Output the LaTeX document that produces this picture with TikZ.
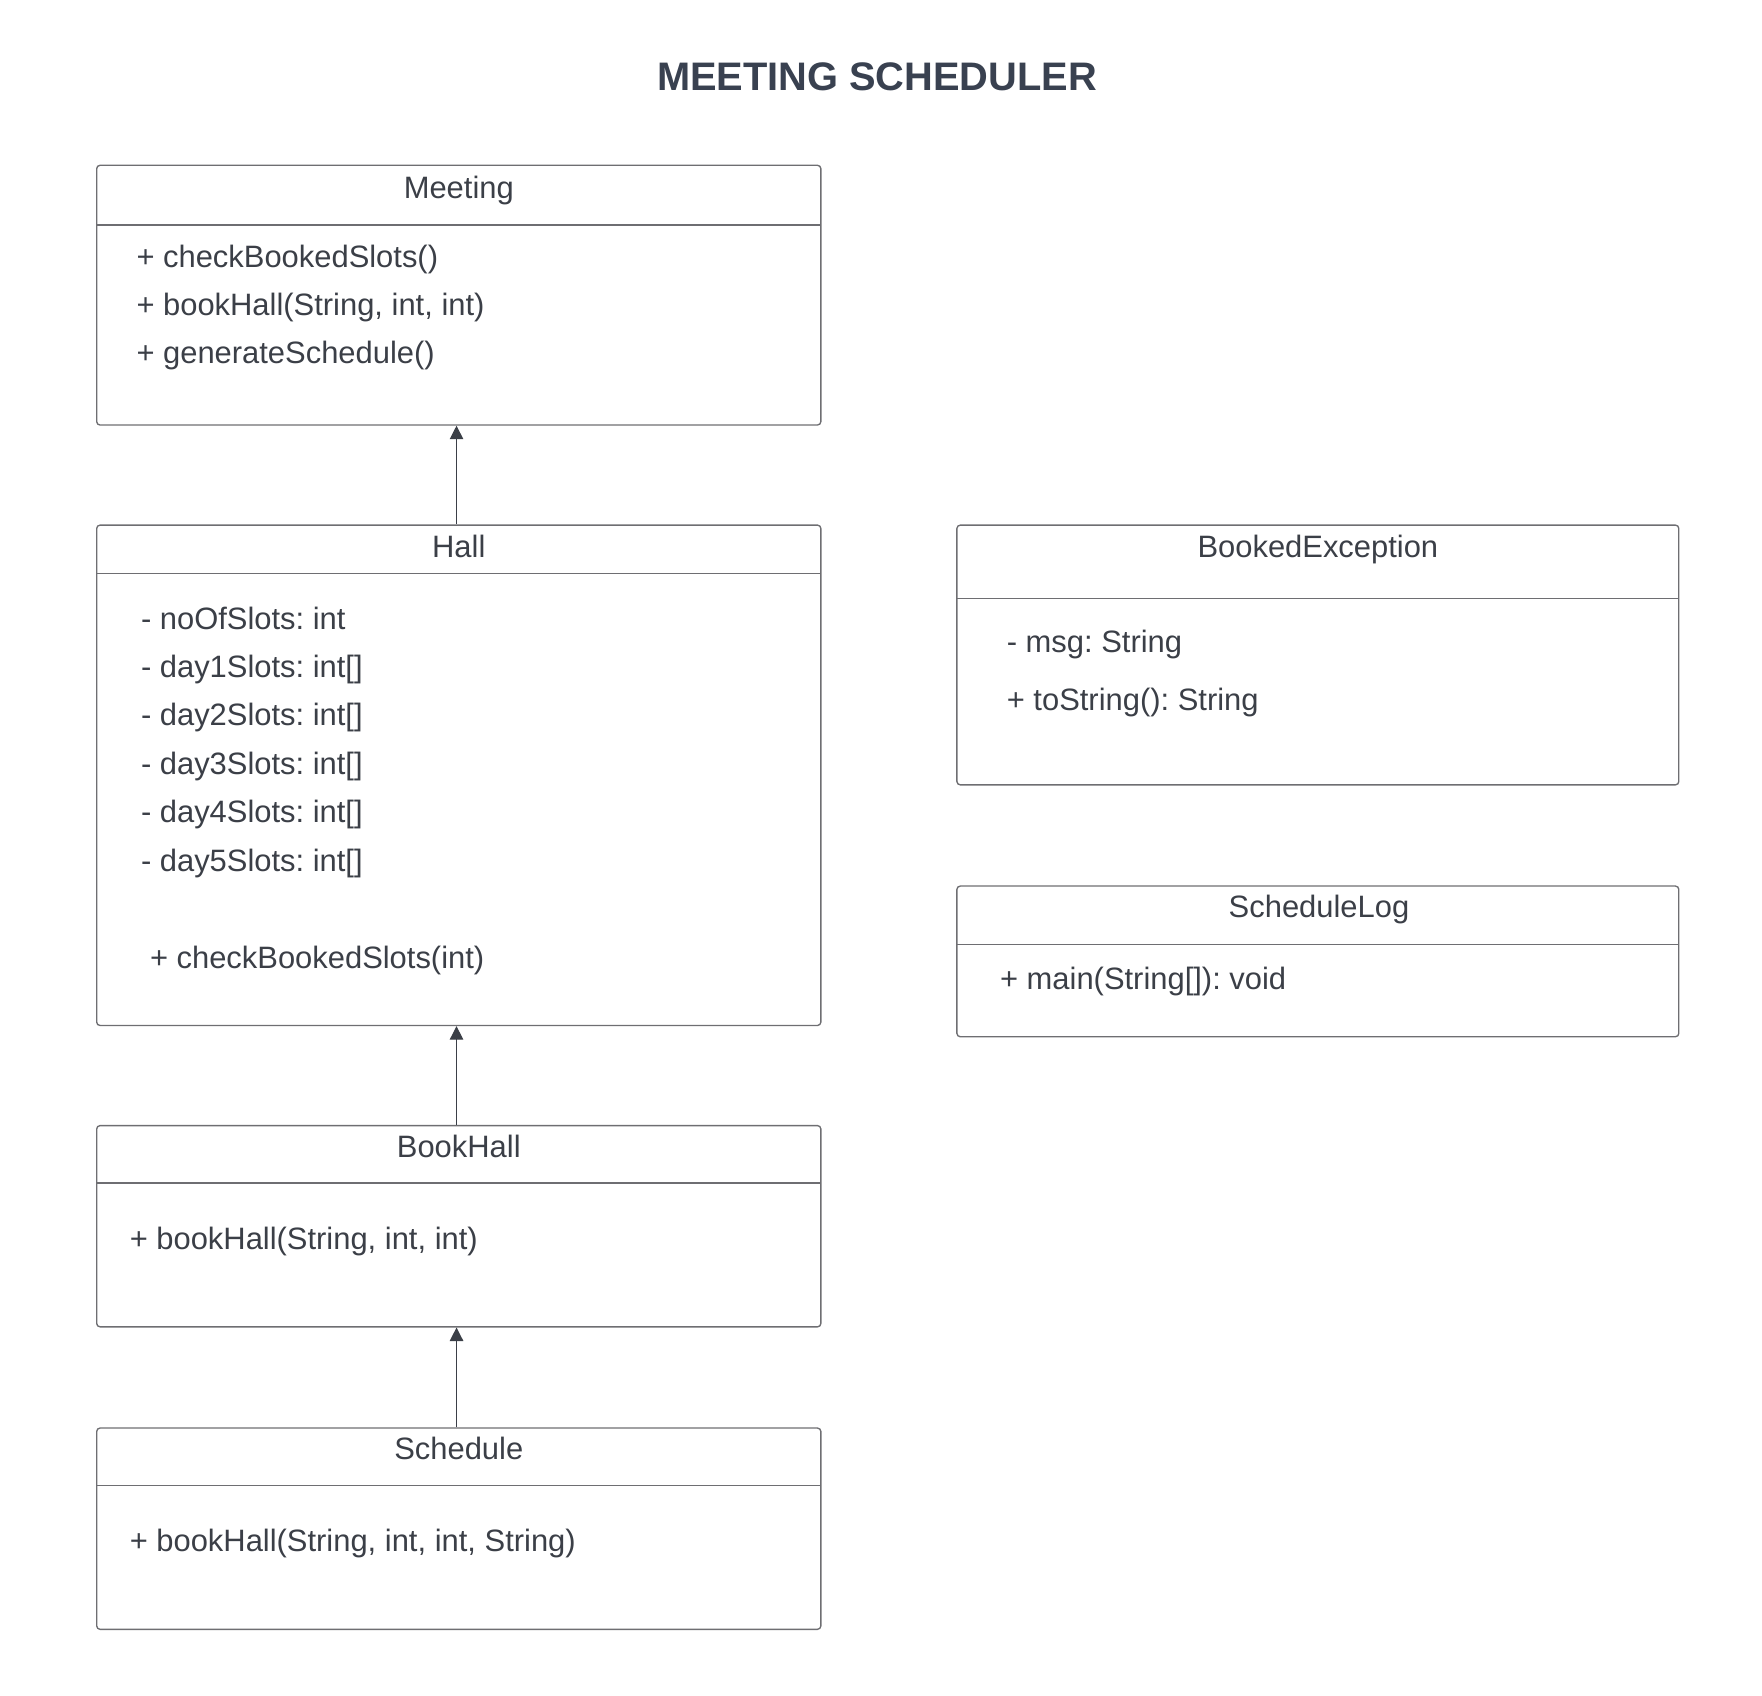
\documentclass[tikz,border=0pt]{standalone}
\usepackage{fontspec}
\setmainfont{Liberation Sans}
\usetikzlibrary{arrows.meta}
\definecolor{txt}{HTML}{3B3F47}
\definecolor{ttl}{HTML}{394150}
\definecolor{boxline}{HTML}{6E6E72}
\frenchspacing
\tikzset{
  x=0.5pt, y=-0.5pt,
  classbox/.style={draw=boxline, line width=0.6pt, rounded corners=1.5pt, inner sep=0pt},
  divider/.style={draw=boxline, line width=0.6pt},
  member/.style={anchor=west, inner sep=0pt, text=txt, font=\fontsize{13.75pt}{16pt}\selectfont, text height=0.75em, text depth=0.21em, yshift=-1.6pt},
  cname/.style={member, anchor=center},
  gen/.style={draw=txt, line width=0.5pt, -{Triangle[length=6pt,width=6pt]}},
}
\begin{document}
\begin{tikzpicture}
\useasboundingbox (0,0) rectangle (1567,1508.3);
\node[text=ttl, font=\bfseries\fontsize{17.7pt}{20pt}\selectfont, text height=0.72em, text depth=0pt, inner sep=0pt, yshift=-2.5pt] (title) at (780,68) {MEETING SCHEDULER};

% Meeting
\node[classbox, minimum width=322pt, minimum height=115.5pt] (meeting) at (408,262.5) {};
\draw[divider] (86,200) -- (730,200);
\node[cname] (meetingname) at (408,168) {Meeting};
\node[member] (m1) at (121,229) {+ checkBookedSlots()};
\node[member] (m2) at (121,272) {+ bookHall(String, int, int)};
\node[member] (m3) at (121,315) {+ generateSchedule()};

% Hall
\node[classbox, minimum width=322pt, minimum height=222.5pt] (hall) at (408,689.5) {};
\draw[divider] (86,510) -- (730,510);
\node[cname] (hallname) at (408,487) {Hall};
\node[member] (h1) at (125,551) {- noOfSlots: int};
\node[member] (h2) at (125,594) {- day1Slots: int[]};
\node[member] (h3) at (125,637) {- day2Slots: int[]};
\node[member] (h4) at (125,680) {- day3Slots: int[]};
\node[member] (h5) at (125,723) {- day4Slots: int[]};
\node[member] (h6) at (125,766) {- day5Slots: int[]};
\node[member] (h7) at (133,853) {+ checkBookedSlots(int)};

% BookHall
\node[classbox, minimum width=322pt, minimum height=89.5pt] (bookhall) at (408,1090.5) {};
\draw[divider] (86,1052) -- (730,1052);
\node[cname] (bookhallname) at (408,1021) {BookHall};
\node[member] (b1) at (115,1103) {+ bookHall(String, int, int)};

% Schedule
\node[classbox, minimum width=322pt, minimum height=89.5pt] (schedule) at (408,1359.5) {};
\draw[divider] (86,1321) -- (730,1321);
\node[cname] (schedulename) at (408,1289) {Schedule};
\node[member] (s1) at (115,1371) {+ bookHall(String, int, int, String)};

% BookedException
\node[classbox, minimum width=321pt, minimum height=115.5pt] (booked) at (1172,582.5) {};
\draw[divider] (851,532) -- (1493,532);
\node[cname] (bookedname) at (1172,487) {BookedException};
\node[member] (e1) at (895,572) {- msg: String};
\node[member] (e2) at (895,623) {+ toString(): String};

% ScheduleLog
\node[classbox, minimum width=321pt, minimum height=67pt] (log) at (1172,855) {};
\draw[divider] (851,840) -- (1493,840);
\node[cname] (logname) at (1173,807) {ScheduleLog};
\node[member] (l1) at (889,871) {+ main(String[]): void};

% generalizations
\coordinate (ax) at (406,0);
\draw[gen] (hall.north -| ax) -- (meeting.south -| ax);
\draw[gen] (bookhall.north -| ax) -- (hall.south -| ax);
\draw[gen] (schedule.north -| ax) -- (bookhall.south -| ax);
\end{tikzpicture}
\end{document}
